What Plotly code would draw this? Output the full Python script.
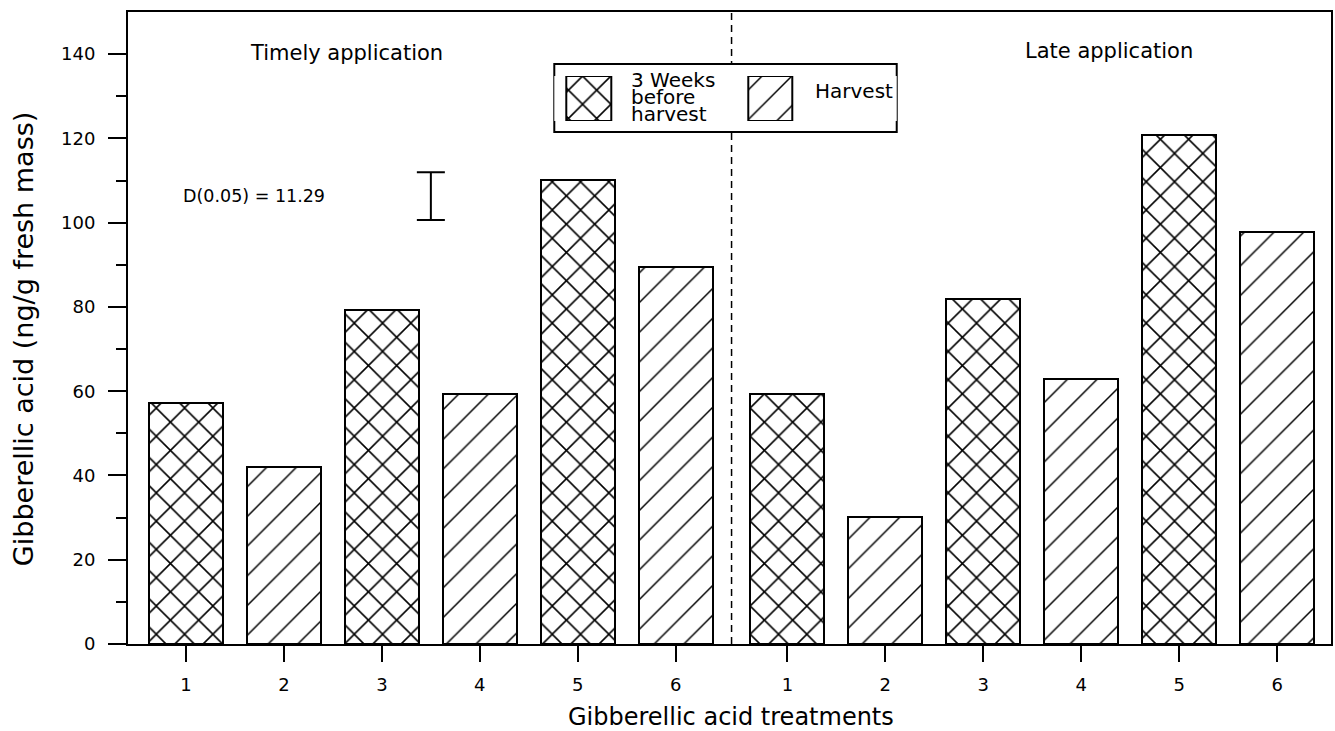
import plotly.graph_objects as go

# Gibberellic acid content (ng/g fresh mass) per treatment
treatment_labels = ["1", "2", "3", "4", "5", "6"]
timely_values = [57.2, 42.0, 79.3, 59.3, 110.1, 89.5]
late_values = [59.3, 30.2, 82.0, 62.9, 120.9, 97.8]
# sampling time of each treatment (odd = 3 weeks before harvest, even = harvest)
sampling = ["3 Weeks before harvest", "Harvest", "3 Weeks before harvest",
            "Harvest", "3 Weeks before harvest", "Harvest"]
lsd_label = "D(0.05) = 11.29"
lsd_value = 11.29
lsd_centre = 106.3

FONT = "DejaVu Sans"
W, H = 1335, 731
L, R, T, B = 128, 2, 12, 87
PW, PH = W - L - R, H - T - B


def px(xp):
    return (xp - L) / PW


def py(yp):
    return (H - B - yp) / PH


GROUP_GAP = 0.14
BAR_W = 0.755
n = len(treatment_labels)
x_timely = [i + 1 for i in range(n)]
x_late = [n + i + 1 + GROUP_GAP for i in range(n)]
x_all = x_timely + x_late
v_all = timely_values + late_values
s_all = sampling + sampling

patterns = {
    "3 Weeks before harvest": dict(shape="x", size=20, solidity=0.15),
    "Harvest": dict(shape="/", size=21, solidity=0.07),
}


def bar_marker(pat):
    return dict(color="white", line=dict(color="black", width=2),
                pattern=dict(fgcolor="black", bgcolor="white", fgopacity=1,
                             fillmode="overlay", **pat))


fig = go.Figure()
for name, pat in patterns.items():
    xs = [x for x, s in zip(x_all, s_all) if s == name]
    ys = [v for v, s in zip(v_all, s_all) if s == name]
    fig.add_trace(go.Bar(x=xs, y=ys, width=BAR_W, name=name, showlegend=False,
                         marker=bar_marker(pat)))

# LSD bar
fig.add_trace(go.Scatter(
    x=[(x_timely[2] + x_timely[3]) / 2], y=[lsd_centre], mode="markers",
    marker=dict(size=1, color="rgba(0,0,0,0)"), showlegend=False,
    error_y=dict(type="constant", value=lsd_value / 2, color="black", thickness=2, width=14),
))

# legend swatches drawn on a small helper axis
LEG_X0, LEG_X1 = 555, 898
fig.add_trace(go.Bar(x=[567 - LEG_X0 + 22.5], y=[1], width=45, xaxis="x2", yaxis="y2",
                     showlegend=False, marker=bar_marker(patterns["3 Weeks before harvest"])))
fig.add_trace(go.Bar(x=[749 - LEG_X0 + 22], y=[1], width=44, xaxis="x2", yaxis="y2",
                     showlegend=False, marker=bar_marker(patterns["Harvest"])))

split = (x_timely[-1] + x_late[0]) / 2
shapes = [
    dict(type="line", xref="x", yref="y domain", x0=split, x1=split, y0=0, y1=1,
         line=dict(color="black", width=1.5, dash="7px,5px"), layer="below"),
    dict(type="rect", xref="paper", yref="paper", x0=px(LEG_X0), x1=px(LEG_X1),
         y0=py(132), y1=py(64), line=dict(color="black", width=2), fillcolor="white",
         layer="below"),
]


def label(text, xp, yp, size, anchor="center", angle=0):
    return dict(text=text, x=px(xp), y=py(yp), xref="paper", yref="paper",
                xanchor=anchor, yanchor="middle", showarrow=False, textangle=angle,
                font=dict(family=FONT, size=size, color="black"))


annotations = [
    label("Timely application", 347, 53, 21),
    label("Late application", 1111, 51, 21),
    label(lsd_label, 254, 196, 17.5),
    label("Gibberellic acid (ng/g fresh mass)", 23, 339, 27, angle=-90),
    label("Gibberellic acid treatments", 732, 717, 24),
    label("3 Weeks", 630, 80, 20, anchor="left"),
    label("before", 630, 97, 20, anchor="left"),
    label("harvest", 630, 114, 20, anchor="left"),
    label("Harvest", 814, 91, 20, anchor="left"),
]

fig.update_layout(
    width=W, height=H, autosize=False,
    margin=dict(l=L, r=R, t=T, b=B, pad=0),
    paper_bgcolor="white", plot_bgcolor="white",
    bargap=0, barmode="overlay",
    font=dict(family=FONT, color="black"),
    shapes=shapes, annotations=annotations,
    xaxis=dict(
        range=[0.408, 12.69], tickvals=x_all, ticktext=treatment_labels * 2,
        ticks="outside", ticklen=16, tickwidth=1.5, tickcolor="black",
        showline=True, linewidth=2, linecolor="black", mirror=True,
        showgrid=False, zeroline=False, ticklabelstandoff=7,
        tickfont=dict(family=FONT, size=18, color="black"),
    ),
    yaxis=dict(
        range=[0, 150], tickvals=list(range(0, 141, 20)),
        ticks="outside", ticklen=18, tickwidth=1.5, tickcolor="black",
        minor=dict(tickvals=list(range(10, 150, 20)), ticks="outside", ticklen=10,
                   tickwidth=1.5, tickcolor="black"),
        showline=True, linewidth=2, linecolor="black", mirror=True,
        showgrid=False, zeroline=False, ticklabelstandoff=9,
        tickfont=dict(family=FONT, size=18, color="black"),
    ),
    xaxis2=dict(domain=[px(LEG_X0), px(LEG_X1)], range=[0, LEG_X1 - LEG_X0],
                anchor="y2", visible=False, fixedrange=True),
    yaxis2=dict(domain=[py(121), py(76)], range=[0, 1], anchor="x2",
                visible=False, fixedrange=True),
)

fig.write_html("out.html")
